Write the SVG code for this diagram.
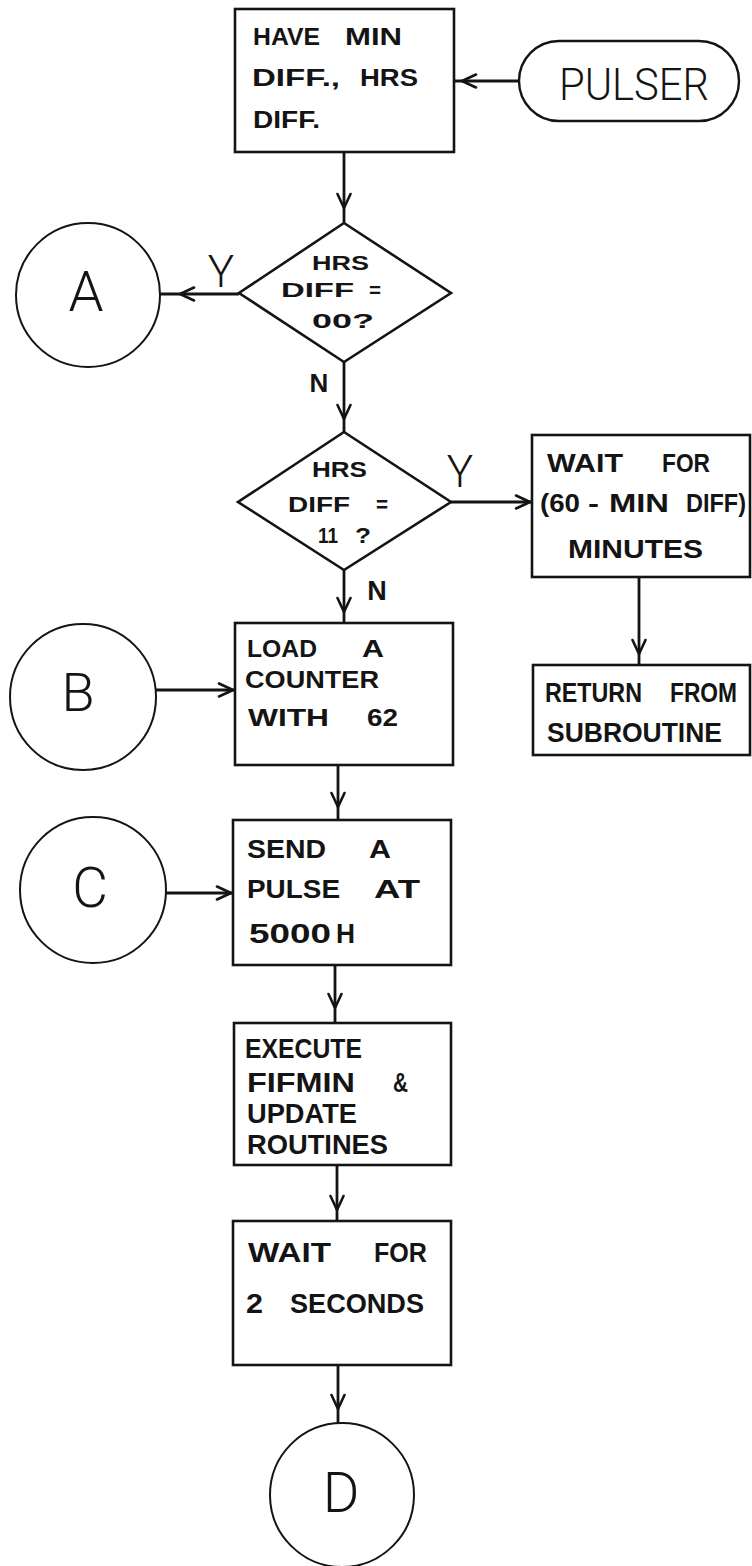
<svg xmlns="http://www.w3.org/2000/svg" width="752" height="1566" viewBox="0 0 752 1566">
<style>
.bg{fill:#fff}
.box{fill:#fff;stroke:#141414;stroke-width:2.6}
.circ{fill:#fff;stroke:#141414;stroke-width:2}
.con{fill:none;stroke:#141414;stroke-width:2.8;marker-mid:url(#ah)}
.t{font-family:"Liberation Sans",Arial,sans-serif;font-weight:bold;fill:#141414}
.big{font-family:Roboto,"Open Sans","Liberation Sans",sans-serif;font-weight:300;fill:#141414;text-anchor:middle}
.lbl{font-family:"Liberation Sans",Arial,sans-serif;font-weight:bold;fill:#141414;text-anchor:middle}
</style>
<defs>
<marker id="ah" viewBox="0 0 18 16" refX="16" refY="8" markerWidth="18" markerHeight="16" markerUnits="userSpaceOnUse" orient="auto">
<path d="M2,1.5 L16,8 L2,14.5" fill="none" stroke="#141414" stroke-width="2.6" stroke-linecap="round" stroke-linejoin="round"/>
</marker>
</defs>
<rect class="bg" x="0" y="0" width="752" height="1566"/>

<g id="connectors">
<path class="con" d="M519,81 L462,81 L455,81"/>
<path class="con" d="M344,152 L344,208 L344,223"/>
<path class="con" d="M239,294 L180,294 L160,294"/>
<path class="con" d="M344,362 L344,419 L344,432"/>
<path class="con" d="M451,502 L530,502 L532,502"/>
<path class="con" d="M639,577 L639,654 L639,665"/>
<path class="con" d="M344,570 L344,612 L344,623"/>
<path class="con" d="M156,690 L233,690 L235,690"/>
<path class="con" d="M338,765 L338,807 L338,820"/>
<path class="con" d="M165,893 L231,893 L233,893"/>
<path class="con" d="M335,965 L335,1008 L335,1023"/>
<path class="con" d="M337,1165 L337,1210 L337,1221"/>
<path class="con" d="M338,1365 L338,1409 L338,1423"/>
<text class="big" x="221" y="287" font-size="44">Y</text>
<text class="lbl" x="319" y="392" font-size="26">N</text>
<text class="big" x="460" y="487" font-size="44">Y</text>
<text class="lbl" x="377" y="600" font-size="27">N</text>
</g>

<g id="n_pulser">
<rect x="519" y="41" width="220" height="80" rx="40" ry="40" fill="#fff" stroke="#141414" stroke-width="2.4"/>
<text class="big" x="634" y="100" font-size="45" textLength="150" lengthAdjust="spacingAndGlyphs">PULSER</text>
</g>

<g id="n_have">
<rect class="box" x="235" y="9" width="219" height="143"/>
<text class="t" font-size="23" y="45"><tspan x="253" textLength="67" lengthAdjust="spacingAndGlyphs">HAVE</tspan> <tspan x="345" textLength="57" lengthAdjust="spacingAndGlyphs">MIN</tspan></text>
<text class="t" font-size="23" y="86"><tspan x="252" textLength="88" lengthAdjust="spacingAndGlyphs">DIFF.,</tspan> <tspan x="360" textLength="58" lengthAdjust="spacingAndGlyphs">HRS</tspan></text>
<text class="t" font-size="23" y="128" x="253" textLength="67" lengthAdjust="spacingAndGlyphs">DIFF.</text>
</g>

<g id="n_dec1">
<polygon class="box" points="344,223 451,293 344,362 239,293"/>
<text class="t" font-size="21" y="270" x="312" textLength="57" lengthAdjust="spacingAndGlyphs">HRS</text>
<text class="t" font-size="21" y="297"><tspan x="281" textLength="73" lengthAdjust="spacingAndGlyphs">DIFF</tspan> <tspan x="369" textLength="12" lengthAdjust="spacingAndGlyphs">=</tspan></text>
<text class="t" font-size="21" y="328" x="312" textLength="62" lengthAdjust="spacingAndGlyphs">00?</text>
</g>

<g id="n_A">
<circle class="circ" cx="88" cy="295" r="72"/>
<text class="big" x="86" y="311" font-size="56">A</text>
</g>

<g id="n_dec2">
<polygon class="box" points="344,432 451,502 344,570 238,502"/>
<text class="t" font-size="22" y="477" x="312" textLength="55" lengthAdjust="spacingAndGlyphs">HRS</text>
<text class="t" font-size="22" y="512"><tspan x="288" textLength="62" lengthAdjust="spacingAndGlyphs">DIFF</tspan> <tspan x="376" textLength="12" lengthAdjust="spacingAndGlyphs">=</tspan></text>
<text class="t" font-size="22" y="543"><tspan x="318" textLength="20" lengthAdjust="spacingAndGlyphs">11</tspan> <tspan x="355" textLength="16" lengthAdjust="spacingAndGlyphs">?</tspan></text>
</g>

<g id="n_waitmin">
<rect class="box" x="532" y="435" width="218" height="142"/>
<text class="t" font-size="25" y="472"><tspan x="547" textLength="76" lengthAdjust="spacingAndGlyphs">WAIT</tspan> <tspan x="662" textLength="48" lengthAdjust="spacingAndGlyphs">FOR</tspan></text>
<text class="t" font-size="25" y="512"><tspan x="540" textLength="40" lengthAdjust="spacingAndGlyphs">(60</tspan> <tspan x="588" textLength="11" lengthAdjust="spacingAndGlyphs">-</tspan> <tspan x="609" textLength="60" lengthAdjust="spacingAndGlyphs">MIN</tspan> <tspan x="686" textLength="60" lengthAdjust="spacingAndGlyphs">DIFF)</tspan></text>
<text class="t" font-size="25" y="558" x="568" textLength="135" lengthAdjust="spacingAndGlyphs">MINUTES</text>
</g>

<g id="n_return">
<rect class="box" x="533" y="665" width="217" height="90"/>
<text class="t" font-size="27" y="702"><tspan x="545" textLength="97" lengthAdjust="spacingAndGlyphs">RETURN</tspan> <tspan x="670" textLength="67" lengthAdjust="spacingAndGlyphs">FROM</tspan></text>
<text class="t" font-size="27" y="742" x="547" textLength="175" lengthAdjust="spacingAndGlyphs">SUBROUTINE</text>
</g>

<g id="n_B">
<circle class="circ" cx="83" cy="697" r="73"/>
<text class="big" x="78" y="711" font-size="54">B</text>
</g>

<g id="n_load">
<rect class="box" x="235" y="623" width="218" height="142"/>
<text class="t" font-size="24" y="657"><tspan x="247" textLength="70" lengthAdjust="spacingAndGlyphs">LOAD</tspan> <tspan x="362" textLength="22" lengthAdjust="spacingAndGlyphs">A</tspan></text>
<text class="t" font-size="24" y="688" x="245" textLength="134" lengthAdjust="spacingAndGlyphs">COUNTER</text>
<text class="t" font-size="24" y="726"><tspan x="248" textLength="81" lengthAdjust="spacingAndGlyphs">WITH</tspan> <tspan x="367" textLength="31" lengthAdjust="spacingAndGlyphs">62</tspan></text>
</g>

<g id="n_C">
<circle class="circ" cx="93" cy="890" r="73"/>
<text class="big" x="90" y="907" font-size="55">C</text>
</g>

<g id="n_send">
<rect class="box" x="233" y="820" width="218" height="145"/>
<text class="t" font-size="26" y="858"><tspan x="247" textLength="79" lengthAdjust="spacingAndGlyphs">SEND</tspan> <tspan x="369" textLength="22" lengthAdjust="spacingAndGlyphs">A</tspan></text>
<text class="t" font-size="26" y="898"><tspan x="247" textLength="93" lengthAdjust="spacingAndGlyphs">PULSE</tspan> <tspan x="374" textLength="46" lengthAdjust="spacingAndGlyphs">AT</tspan></text>
<text class="t" font-size="27" y="943"><tspan x="249" textLength="82" lengthAdjust="spacingAndGlyphs">5000</tspan> <tspan x="336" textLength="19" lengthAdjust="spacingAndGlyphs">H</tspan></text>
</g>

<g id="n_execute">
<rect class="box" x="234" y="1023" width="217" height="142"/>
<text class="t" font-size="27" y="1058" x="245" textLength="117" lengthAdjust="spacingAndGlyphs">EXECUTE</text>
<text class="t" font-size="27" y="1092"><tspan x="247" textLength="108" lengthAdjust="spacingAndGlyphs">FIFMIN</tspan> <tspan x="393" textLength="15" lengthAdjust="spacingAndGlyphs">&amp;</tspan></text>
<text class="t" font-size="27" y="1123" x="247" textLength="110" lengthAdjust="spacingAndGlyphs">UPDATE</text>
<text class="t" font-size="27" y="1154" x="247" textLength="141" lengthAdjust="spacingAndGlyphs">ROUTINES</text>
</g>

<g id="n_wait2">
<rect class="box" x="233" y="1221" width="218" height="144"/>
<text class="t" font-size="27" y="1262"><tspan x="248" textLength="83" lengthAdjust="spacingAndGlyphs">WAIT</tspan> <tspan x="374" textLength="53" lengthAdjust="spacingAndGlyphs">FOR</tspan></text>
<text class="t" font-size="27" y="1313"><tspan x="246" textLength="17" lengthAdjust="spacingAndGlyphs">2</tspan> <tspan x="290" textLength="134" lengthAdjust="spacingAndGlyphs">SECONDS</tspan></text>
</g>

<g id="n_D">
<circle class="circ" cx="342" cy="1495" r="72"/>
<text class="big" x="341" y="1512" font-size="56">D</text>
</g>
</svg>
